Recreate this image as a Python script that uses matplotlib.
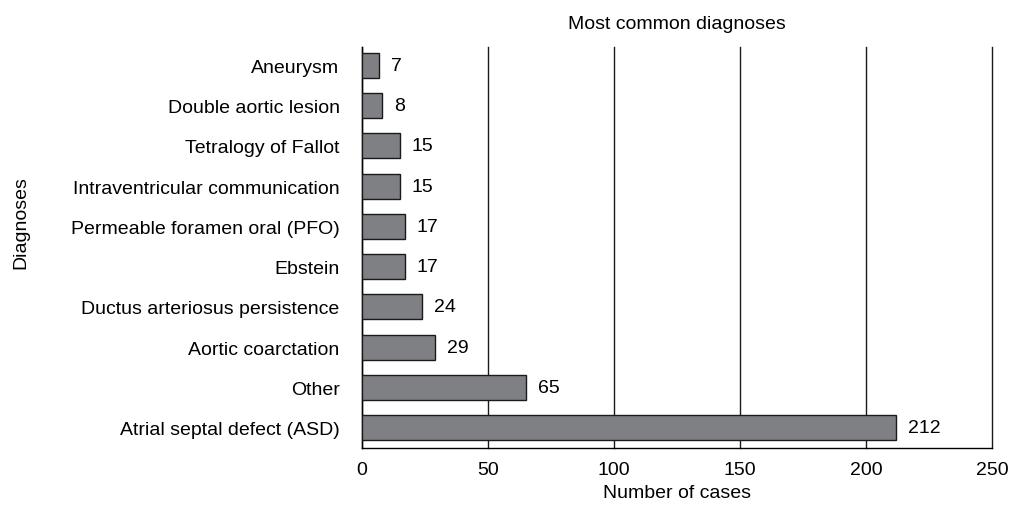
import matplotlib.pyplot as plt
from matplotlib import font_manager

names = {f.name for f in font_manager.fontManager.ttflist}
fam = 'Liberation Sans Narrow' if 'Liberation Sans Narrow' in names else 'Liberation Sans'
plt.rcParams['font.family'] = [fam, 'DejaVu Sans']

diagnoses = ['Atrial septal defect (ASD)', 'Other', 'Aortic coarctation',
             'Ductus arteriosus persistence', 'Ebstein',
             'Permeable foramen oral (PFO)', 'Intraventricular communication',
             'Tetralogy of Fallot', 'Double aortic lesion', 'Aneurysm']
cases = [212, 65, 29, 24, 17, 17, 15, 15, 8, 7]
xticks = [0, 50, 100, 150, 200, 250]

fig = plt.figure(figsize=(10.19, 5.06), dpi=100)
ax = fig.add_axes([0.355, 0.1126, 0.6185, 0.7924])

ypos = list(range(len(diagnoses)))
ax.barh(ypos, cases, height=0.62, color='#7f8084', edgecolor='#1a1a1a',
        linewidth=1.0, zorder=3)
for y, v in zip(ypos, cases):
    ax.text(v + 4.8, y, str(v), va='center', ha='left', fontsize=14)

ax.set_xlim(0, 250)
ax.set_ylim(-0.5, 9.45)
ax.set_xticks(xticks)
ax.set_yticks(ypos)
ax.set_yticklabels(diagnoses)
ax.tick_params(axis='y', length=0, pad=16, labelsize=14)
ax.tick_params(axis='x', length=0, pad=9, labelsize=14)
ax.xaxis.grid(True, color='#1a1a1a', linewidth=1.0, zorder=0)
for gl in ax.get_xgridlines():
    gl.set_clip_on(False)
ax.set_axisbelow(True)
for s in ['top', 'right']:
    ax.spines[s].set_visible(False)
ax.spines['left'].set_linewidth(1.0)
ax.spines['bottom'].set_linewidth(1.0)

ax.set_xlabel('Number of cases', fontsize=14, labelpad=5)
fig.text(0.02, 0.56, 'Diagnoses', rotation=90, va='center', ha='center', fontsize=14)
ax.set_title('Most common diagnoses', fontsize=14, pad=14)

fig.savefig('out.png', dpi=100)
